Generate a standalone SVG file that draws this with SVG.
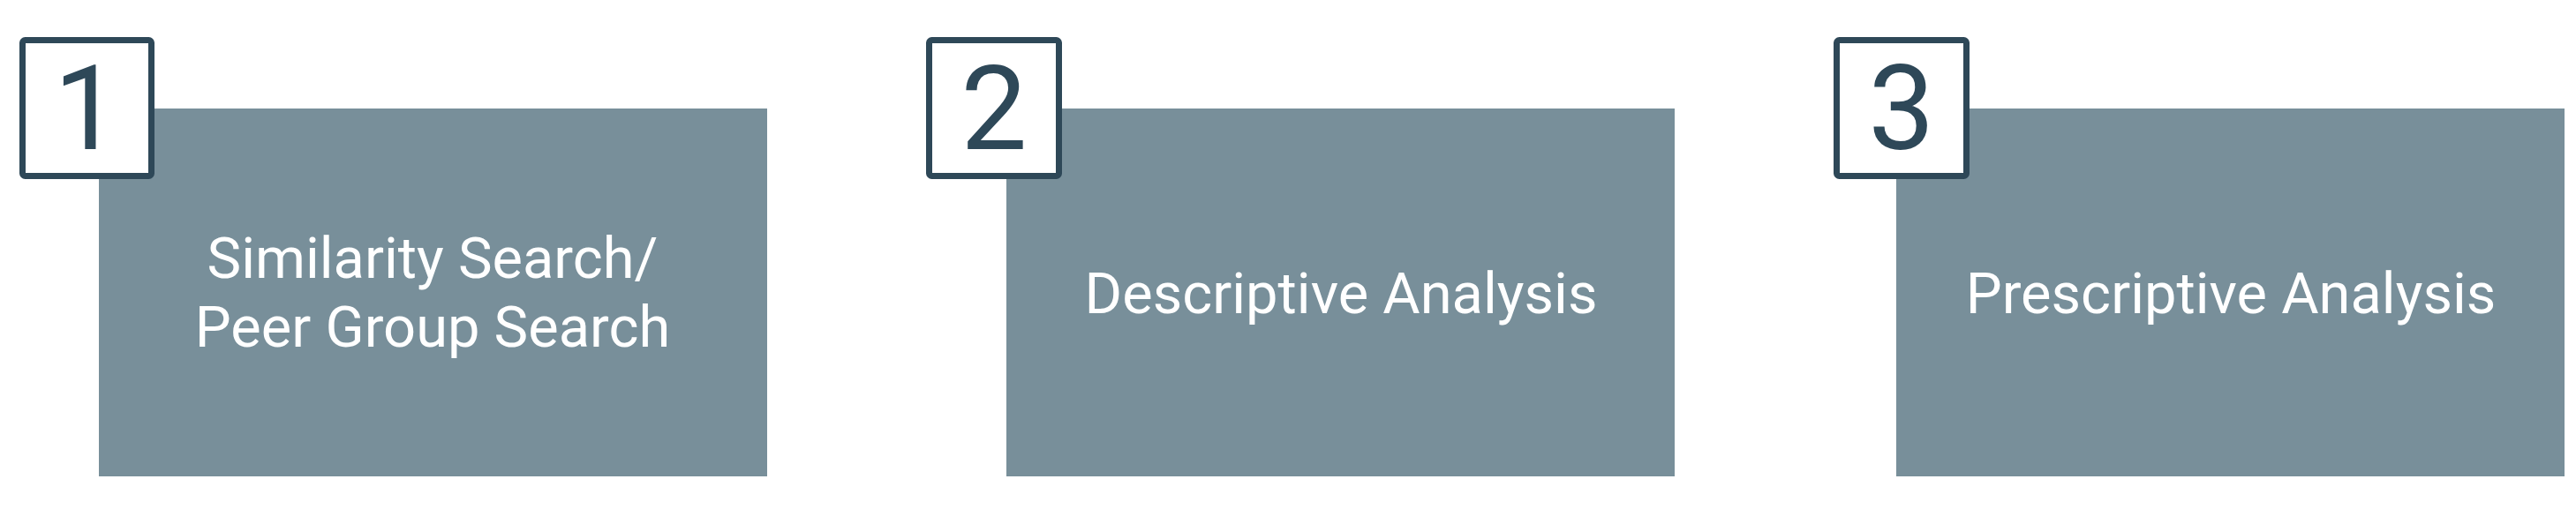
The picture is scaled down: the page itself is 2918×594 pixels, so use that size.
<svg xmlns="http://www.w3.org/2000/svg" width="2918" height="594" viewBox="0 0 2918 594">
<style>
.panel{fill:#788f9a}
.badge{fill:#ffffff;stroke:#2e4858;stroke-width:7}
.num{font-family:Roboto,"Liberation Sans",sans-serif;font-size:134px;fill:#2e4858;text-anchor:middle}
.lbl{font-family:Roboto,"Liberation Sans",sans-serif;font-size:65px;fill:#ffffff;text-anchor:middle}
</style>
<rect width="2918" height="594" fill="#ffffff"/>
<g id="node1">
<rect class="panel" x="112" y="123" width="757" height="417"/>
<rect class="badge" x="25.5" y="45.5" width="146" height="154" rx="3"/>
<text class="num" x="98.5" y="169">1</text>
<text class="lbl" x="490" y="315">Similarity Search/</text>
<text class="lbl" x="490" y="393">Peer Group Search</text>
</g>
<g id="node2">
<rect class="panel" x="1140" y="123" width="757" height="417"/>
<rect class="badge" x="1052.5" y="45.5" width="147" height="154" rx="3"/>
<text class="num" x="1126" y="169">2</text>
<text class="lbl" x="1519" y="355">Descriptive Analysis</text>
</g>
<g id="node3">
<rect class="panel" x="2148" y="123" width="757" height="417"/>
<rect class="badge" x="2080.5" y="45.5" width="147" height="154" rx="3"/>
<text class="num" x="2154" y="169">3</text>
<text class="lbl" x="2527" y="355">Prescriptive Analysis</text>
</g>
<g id="connectors"></g>
</svg>
